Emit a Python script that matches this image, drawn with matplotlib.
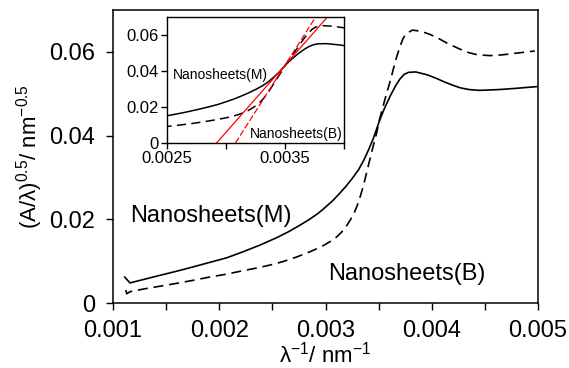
import matplotlib
matplotlib.use("Agg")
import matplotlib.pyplot as plt

plt.rcParams['font.family'] = ['Liberation Sans', 'DejaVu Sans']
plt.rcParams['mathtext.fontset'] = 'custom'
plt.rcParams['mathtext.rm'] = 'Liberation Sans'
plt.rcParams['mathtext.it'] = 'Liberation Sans:italic'

# Nanosheets(M) - solid curve
x_m = [0.00111, 0.00116, 0.00130, 0.00144, 0.00160, 0.00175, 0.00191, 0.00207, 0.00222,
       0.00238, 0.00254, 0.00265, 0.00276, 0.00285, 0.00293, 0.00300, 0.00307, 0.00313,
       0.00319, 0.00325, 0.00331, 0.00336, 0.00340, 0.00345, 0.00351, 0.00356, 0.00361,
       0.00366, 0.00370, 0.00374, 0.00378, 0.00385, 0.00396, 0.00405, 0.00412, 0.00420,
       0.00427, 0.00435, 0.00445, 0.00464, 0.00480, 0.00499]
y_m = [0.0062, 0.0048, 0.0057, 0.0066, 0.0076, 0.0086, 0.0097, 0.0108, 0.0122,
       0.0138, 0.0156, 0.0170, 0.0186, 0.0200, 0.0214, 0.0229, 0.0245, 0.0261,
       0.0278, 0.0297, 0.0318, 0.0341, 0.0363, 0.0393, 0.0437, 0.0468, 0.0495,
       0.0519, 0.0535, 0.0546, 0.0551, 0.0552, 0.0545, 0.0536, 0.0528, 0.0520,
       0.0514, 0.0510, 0.0508, 0.0510, 0.0513, 0.0517]

# Nanosheets(B) - dashed curve
x_b = [0.00112, 0.00113, 0.00116, 0.00130, 0.00144, 0.00160, 0.00175, 0.00191, 0.00207,
       0.00222, 0.00238, 0.00250, 0.00260, 0.00273, 0.00285, 0.00293, 0.00300, 0.00307,
       0.00311, 0.00315, 0.00319, 0.00323, 0.00327, 0.00330, 0.00333, 0.00336, 0.00340,
       0.00344, 0.00348, 0.00351, 0.00356, 0.00361, 0.00366, 0.00370, 0.00373, 0.00376,
       0.00382, 0.00390, 0.00398, 0.00405, 0.00415, 0.00427, 0.00435, 0.00443, 0.00455,
       0.00467, 0.00480, 0.00497]
y_b = [0.0031, 0.0022, 0.0027, 0.0034, 0.0040, 0.0047, 0.0054, 0.0062, 0.0069,
       0.0077, 0.0085, 0.0092, 0.0099, 0.0110, 0.0122, 0.0131, 0.0140, 0.0151,
       0.0159, 0.0169, 0.0181, 0.0197, 0.0215, 0.0234, 0.0257, 0.0283, 0.0325,
       0.0366, 0.0405, 0.0440, 0.0487, 0.0531, 0.0580, 0.0612, 0.0632, 0.0644,
       0.0652, 0.0649, 0.0642, 0.0634, 0.0620, 0.0606, 0.0598, 0.0593, 0.0591,
       0.0593, 0.0597, 0.0602]

# tangent lines (band-edge extrapolation) in the inset
tan_m_x = [0.00292, 0.00386]
tan_m_y = [0.0, 0.07]
tan_b_x = [0.00308, 0.00376]
tan_b_y = [0.0, 0.07]

fig = plt.figure(figsize=(5.69, 3.68), dpi=100)
ax = fig.add_axes([113/569, 1-303/368, 425/569, 293/368])

ax.plot(x_m, y_m, color='black', lw=1.2)
ax.plot(x_b, y_b, color='black', lw=1.2, ls=(0, (6, 3.5)))
ax.set_xlim(0.001, 0.005)
ax.set_ylim(0, 0.07)
ax.set_xticks([0.001, 0.002, 0.003, 0.004, 0.005])
ax.set_xticklabels(['0.001', '0.002', '0.003', '0.004', '0.005'])
ax.set_xticks([0.0015, 0.0025, 0.0035, 0.0045], minor=True)
ax.set_yticks([0, 0.02, 0.04, 0.06])
ax.set_yticklabels(['0', '0.02', '0.04', '0.06'])
ax.tick_params(which='both', direction='out', length=5, width=1, labelsize=17, colors='black')
ax.tick_params(axis='x', pad=7)
ax.tick_params(axis='y', pad=8)
for s in ax.spines.values():
    s.set_linewidth(1.1)
ax.set_xlabel('λ$^{-1}$/ nm$^{-1}$', fontsize=16, labelpad=0)
ax.set_ylabel('(A/λ)$^{0.5}$/ nm$^{-0.5}$', fontsize=16, labelpad=3)
ax.text(0.00116, 0.0193, 'Nanosheets(M)', fontsize=17, va='baseline')
ax.text(0.003024, 0.0055, 'Nanosheets(B)', fontsize=17, va='baseline')

# inset
ins = fig.add_axes([167/569, 1-143/368, 177/569, 126/368])
ins.plot(x_m, y_m, color='black', lw=1.1)
ins.plot(x_b, y_b, color='black', lw=1.1, ls=(0, (6, 3.5)))
ins.plot(tan_m_x, tan_m_y, color='red', lw=0.9)
ins.plot(tan_b_x, tan_b_y, color='red', lw=0.9, ls=(0, (5, 2)))
ins.set_xlim(0.0025, 0.004)
ins.set_ylim(0, 0.07)
ins.set_xticks([0.0025, 0.0035])
ins.set_xticklabels(['0.0025', '0.0035'])
ins.set_xticks([0.003, 0.004], minor=True)
ins.set_yticks([0, 0.02, 0.04, 0.06])
ins.set_yticklabels(['0', '0.02', '0.04', '0.06'])
ins.tick_params(which='both', direction='out', length=4, width=1, labelsize=12, pad=2)
for s in ins.spines.values():
    s.set_linewidth(1.0)
ins.text(0.00255, 0.0356, 'Nanosheets(M)', fontsize=10, va='baseline')
ins.text(0.0032, 0.0029, 'Nanosheets(B)', fontsize=10, va='baseline')

fig.savefig('out.png', dpi=100)
